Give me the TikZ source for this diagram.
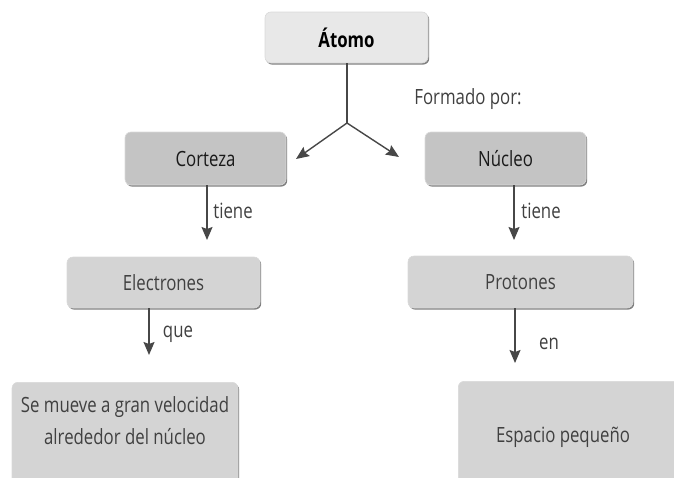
\documentclass[tikz,border=0pt]{standalone}
\usepackage{fontspec}
\setmainfont[FakeStretch=0.8]{Open Sans}
\usetikzlibrary{arrows.meta, shadows}
\colorlet{Topcol}{black!9}
\colorlet{Midcol}{black!23}
\colorlet{Lowcol}{black!17}
\colorlet{Linkcol}{black!72}
\def\fsz{\fontsize{21}{32}\selectfont}

\begin{document}
\begin{tikzpicture}[x=1pt, y=-1pt,
    box/.style={rounded corners=6pt, draw=black!15, line width=0.6pt,
      drop shadow={shadow xshift=1.2pt, shadow yshift=-1.6pt, fill=black!50, opacity=1},
      font=\fsz, text=black!75, inner sep=0pt},
    topbox/.style={box, fill=Topcol, text=black, font=\fsz\bfseries},
    midbox/.style={box, fill=Midcol, text=black!90},
    lowbox/.style={box, fill=Lowcol},
    lbl/.style={font=\fsz, text=black!75, inner sep=0pt},
    link/.style={line width=1.4pt, Linkcol, -{Stealth[length=13pt, width=11pt, inset=2pt]}}]

  \clip (0,0) rectangle (674,477);
  \useasboundingbox (0,0) rectangle (674,477);

  \node[topbox, minimum width=163pt, minimum height=51pt] (atomo) at (346.5,37.5) {Átomo};
  \node[midbox, minimum width=161pt, minimum height=53pt] (corteza) at (205.5,158.5) {Corteza};
  \node[midbox, minimum width=161pt, minimum height=53pt] (nucleo) at (505.5,158.5) {Núcleo};
  \node[lowbox, minimum width=193pt, minimum height=51pt] (electrones) at (163.5,282.5) {Electrones};
  \node[lowbox, minimum width=225pt, minimum height=52pt] (protones) at (520.5,282) {Protones};
  \node[lowbox, minimum width=226pt, minimum height=140pt, anchor=north] (semueve) at (125,382) {};
  \node[lowbox, minimum width=260pt, minimum height=140pt, anchor=north west] (espacio) at (458,381) {};

  \node[lbl, align=center] (semuevetxt) at (125,421) {Se mueve a gran velocidad\\alrededor del núcleo};
  \node[lbl] (espaciotxt) at (563,437) {Espacio pequeño};

  \coordinate (split) at (347,123);
  \coordinate (tipL) at (296,159);
  \coordinate (tipR) at (399,157);
  \coordinate (tipA) at (207,240);
  \coordinate (tipB) at (149,355);
  \coordinate (tipC) at (514,240);
  \coordinate (tipD) at (515,363);

  \draw[line width=1.4pt, Linkcol] (atomo.south -| split) -- (split);
  \draw[link] (split) -- (tipL);
  \draw[link] (split) -- (tipR);
  \draw[link] (corteza.south -| tipA) -- (tipA);
  \draw[link] (electrones.south -| tipB) -- (tipB);
  \draw[link] (nucleo.south -| tipC) -- (tipC);
  \draw[link] (protones.south -| tipD) -- (tipD);

  \node[lbl] (formado) at (468,99) {Formado por:};
  \node[lbl] (tieneL) at (233,211) {tiene};
  \node[lbl] (tieneR) at (541,211) {tiene};
  \node[lbl] (que) at (178,334) {que};
  \node[lbl] (en) at (549,344) {en};
\end{tikzpicture}
\end{document}
